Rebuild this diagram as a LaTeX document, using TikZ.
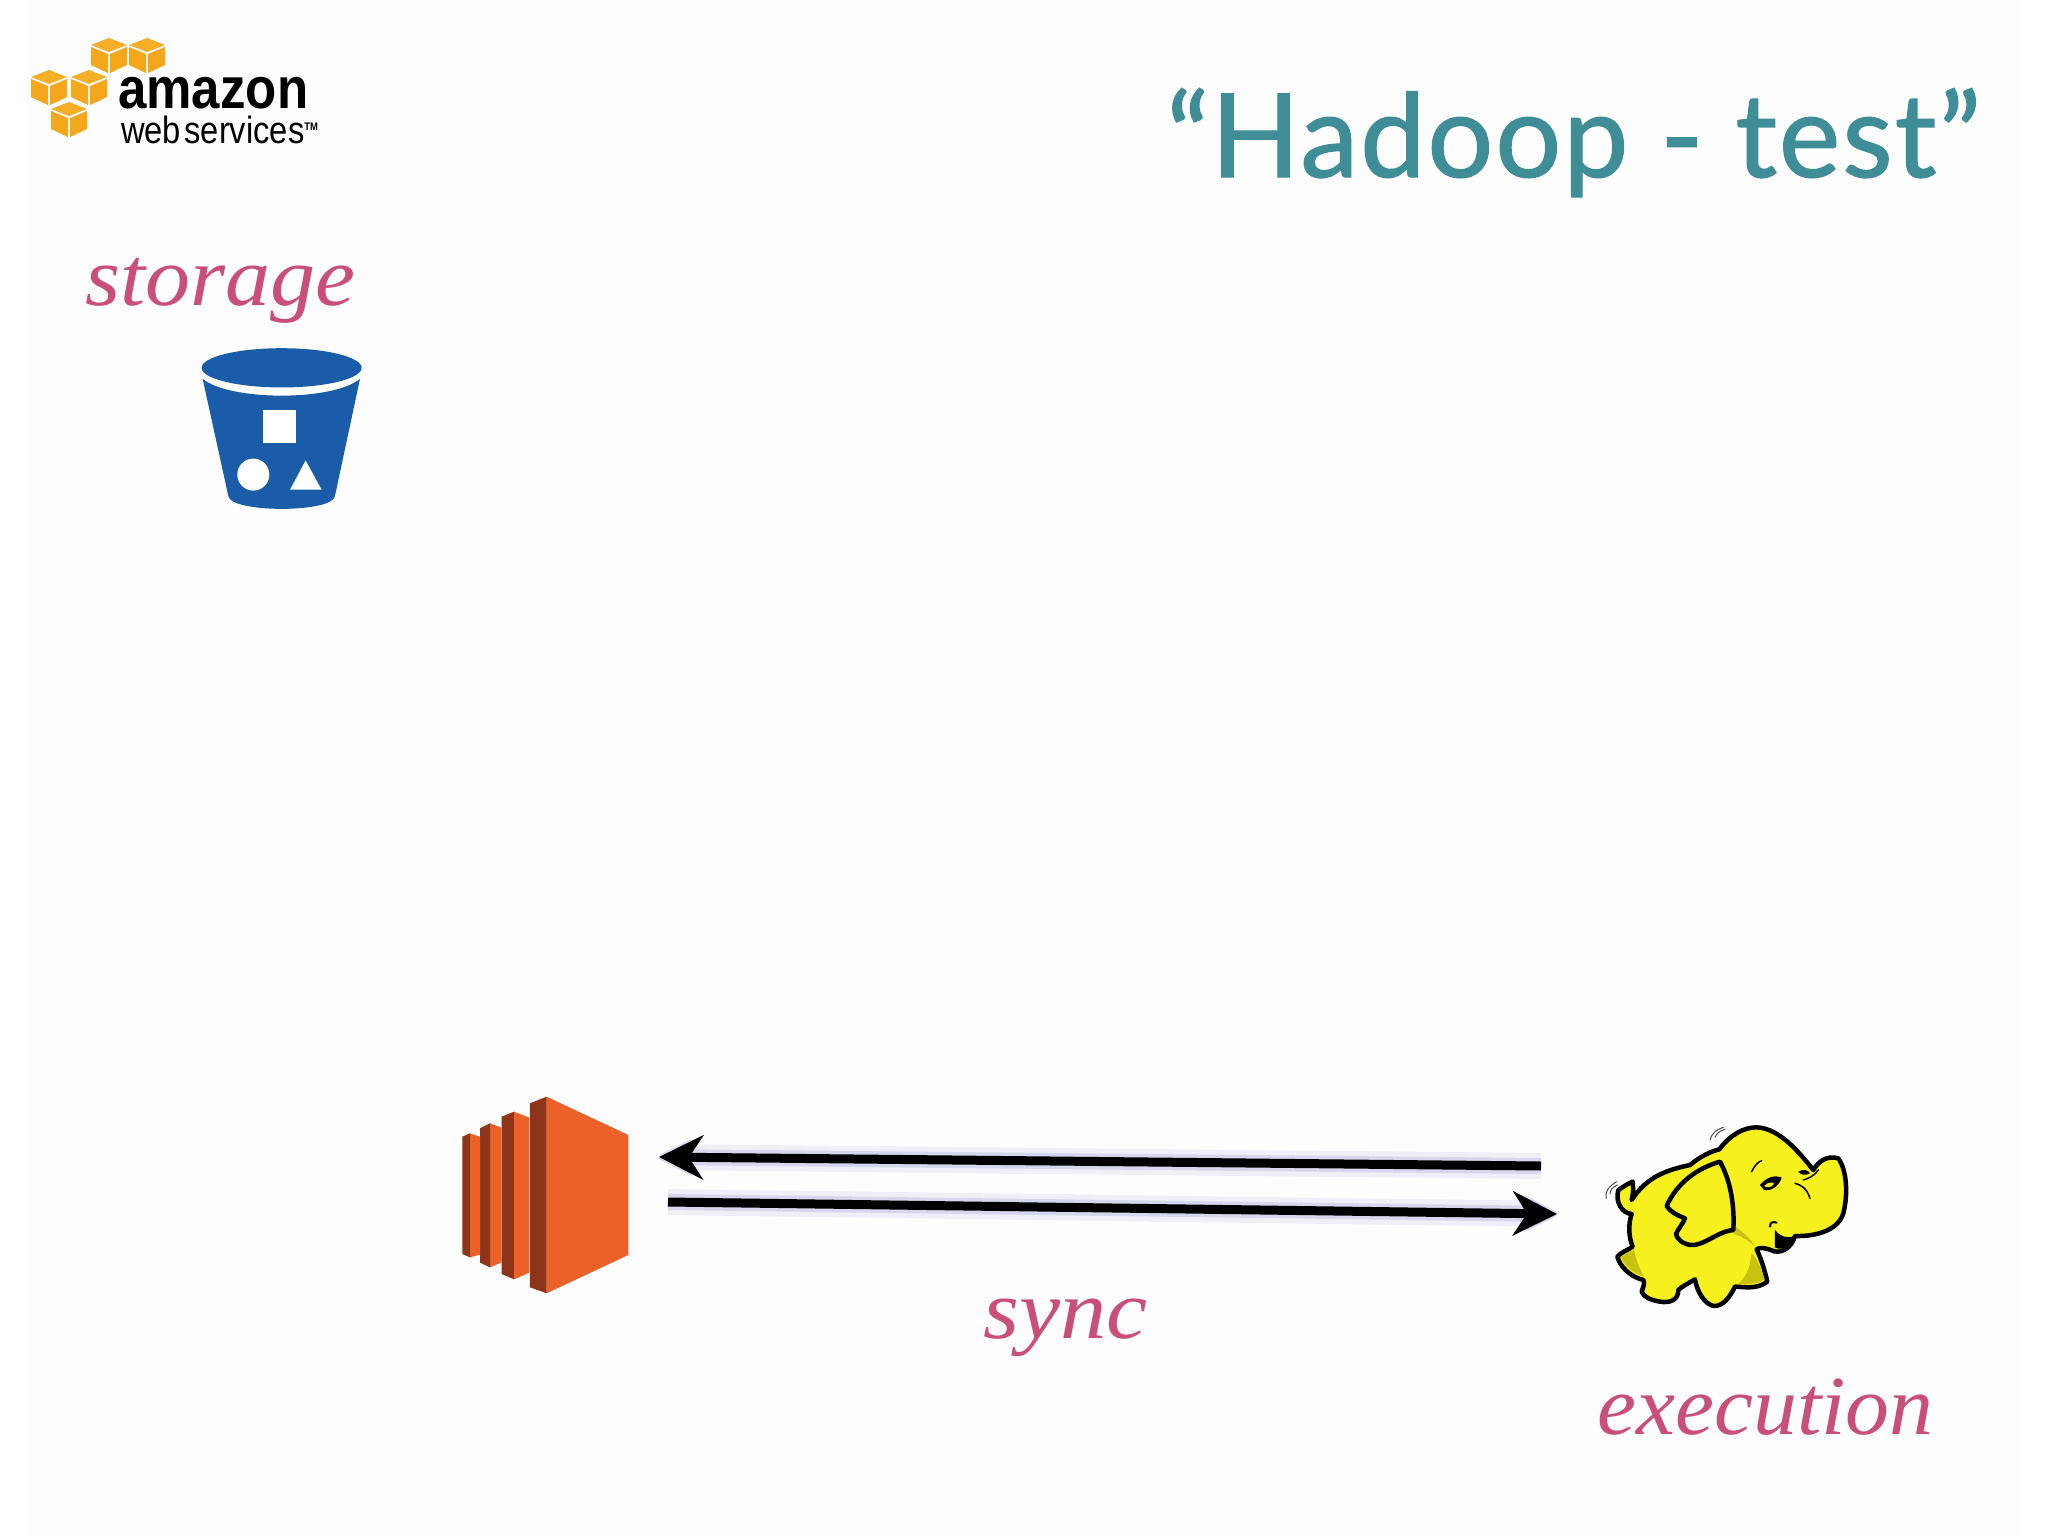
\documentclass[tikz,border=0pt]{standalone}
\usepackage{fontspec}
\usepackage{graphicx}
\usetikzlibrary{arrows.meta}
\setmainfont{Liberation Serif}
\newfontfamily\titlefont[LetterSpace=1.9,FakeBold=1.2]{Lato}
\newfontfamily\awsfont{Liberation Sans}
\definecolor{titleteal}{HTML}{3F8D96}
\definecolor{labelrose}{HTML}{C94F7A}
\definecolor{awsgold}{HTML}{F4A71B}
\definecolor{awsgoldlt}{HTML}{F6AE26}
\definecolor{bucketblue}{HTML}{1A5CA8}
\definecolor{ecorange}{HTML}{EC6127}
\definecolor{ecdark}{HTML}{8E3418}
\definecolor{eleyellow}{HTML}{F6F01E}
\definecolor{eleshade}{HTML}{C9C20E}
\definecolor{glowa}{HTML}{EFEFF8}
\definecolor{glowb}{HTML}{D6D6EC}
\definecolor{pagetone}{HTML}{FDFDFD}
\tikzset{
  x=1pt,y=-1pt,
  labeltext/.style={inner sep=0pt,anchor=base west,text=labelrose,font=\fontsize{#1}{#1}\selectfont\itshape},
  syncline/.style={line width=9pt,black},
  glowone/.style={line width=26pt,glowa},
  glowtwo/.style={line width=16pt,glowb},
  zoomed/.style={shift={(#1)},x=0.3333pt,y=-0.3333pt},
  zoomedtall/.style={x=0.3333pt,y=-0.3444pt},
  eleline/.style={line width=4.5pt,draw=black,line join=round},
  headtip/.style={-{Stealth[length=44pt,width=44pt,inset=14pt]}},
  glowtip/.style={-{Stealth[length=44pt,width=44pt,inset=14pt,line width=#1,round]}},
}
\newcommand{\awscube}[2]{%
  \fill[awsgoldlt] (#1,#2) -- ++(18,7) -- ++(-18,7) -- ++(-18,-7) -- cycle;
  \fill[awsgold] (#1-18,#2+9) -- (#1-1,#2+16) -- (#1-1,#2+35) -- (#1-18,#2+27) -- cycle;
  \fill[awsgold] (#1+18,#2+9) -- (#1+1,#2+16) -- (#1+1,#2+35) -- (#1+18,#2+27) -- cycle;
}
\begin{document}
\begin{tikzpicture}
\useasboundingbox (0,0) rectangle (2048,1536);
\fill[white] (0,0) rectangle (2048,1536);
\fill[pagetone] (28,0) rectangle (2020,1536);

% logo
\awscube{109}{38}\awscube{147}{38}\awscube{49}{70}\awscube{89}{70}\awscube{69}{102}
\node[inner sep=0pt,anchor=base west,font=\awsfont\bfseries\fontsize{58}{58}\selectfont] (amazon) at (118,109) {\scalebox{0.88}[1]{amazon}};
\node[inner sep=0pt,anchor=base west,font=\awsfont\fontsize{38}{38}\selectfont] (webserv) at (121,143) {\scalebox{0.86}[1]{web\hspace{4pt}services\raisebox{13pt}{\fontsize{11}{11}\selectfont\bfseries TM}}};

% title
\node[inner sep=0pt,anchor=base east,text=titleteal,font=\titlefont\fontsize{116}{116}\selectfont] (title) at (1981,177) {“Hadoop - test”};

% labels
\node[labeltext=84] (storage) at (85,305) {\scalebox{1.073}[1]{storage}};
\node[labeltext=84] (sync) at (983,1338) {\scalebox{1.10}[1]{sync}};
\node[labeltext=84] (execution) at (1597,1434) {\scalebox{1.045}[1]{execution}};

% bucket
\begin{scope}[zoomedtall]
\fill[bucketblue] (845,1068) ellipse [x radius=240,y radius=57];
\fill[bucketblue] (608,1100) .. controls (690,1165) and (1000,1165) .. (1080,1100)
  -- (1005,1440) .. controls (1000,1490) and (690,1490) .. (685,1440) -- cycle;
\fill[white] (790,1190) rectangle (888,1285);
\fill[white] (760,1378) circle [radius=16pt];
\fill[white] (917,1337) -- (965,1422) -- (870,1422) -- cycle;
\end{scope}

% EC2
\begin{scope}[zoomed={440,1080}]
\fill[ecorange] (320,50) -- (565,165) -- (565,525) -- (320,640) -- cycle;
\fill[ecdark] (270,70) -- (320,50) -- (320,640) -- (270,622) -- cycle;
\fill[ecorange] (222,95) -- (268,113) -- (268,578) -- (222,598) -- cycle;
\fill[ecdark] (185,110) -- (222,95) -- (222,598) -- (185,582) -- cycle;
\fill[ecorange] (150,130) -- (185,143) -- (185,547) -- (150,562) -- cycle;
\fill[ecdark] (120,145) -- (150,130) -- (150,562) -- (120,548) -- cycle;
\fill[ecorange] (90,160) -- (120,170) -- (120,524) -- (90,532) -- cycle;
\fill[ecdark] (67,170) -- (90,160) -- (90,532) -- (67,522) -- cycle;
\end{scope}

% sync arrows
\coordinate (hadoopout) at (1541,1166);
\coordinate (ecin) at (659,1157);
\coordinate (ecout) at (668,1202);
\coordinate (hadoopin) at (1557,1214);
\draw[glowone,glowtip=14pt] (hadoopout) -- (ecin);
\draw[glowone,glowtip=14pt] (ecout) -- (hadoopin);
\draw[glowtwo,glowtip=6pt] (hadoopout) -- (ecin);
\draw[glowtwo,glowtip=6pt] (ecout) -- (hadoopin);
\draw[syncline,headtip] (hadoopout) -- (ecin);
\draw[syncline,headtip] (ecout) -- (hadoopin);

% elephant
\begin{scope}[zoomed={1560,1090}]
\path[fill=eleyellow,eleline]
  (590,112) .. controls (660,115) and (720,190) .. (760,240)
  .. controls (775,215) and (800,195) .. (835,205)
  .. controls (860,240) and (865,310) .. (850,370)
  .. controls (835,420) and (770,440) .. (705,438)
  .. controls (695,475) and (660,495) .. (632,480)
  .. controls (620,475) and (600,470) .. (590,478)
  .. controls (605,510) and (615,545) .. (622,575)
  .. controls (590,600) and (550,590) .. (525,590)
  .. controls (510,620) and (490,650) .. (460,648)
  .. controls (430,640) and (410,600) .. (405,568)
  .. controls (385,580) and (365,590) .. (355,600)
  .. controls (355,630) and (330,640) .. (300,635)
  .. controls (270,630) and (250,620) .. (245,605)
  .. controls (250,590) and (255,580) .. (250,570)
  .. controls (210,560) and (180,530) .. (172,500)
  .. controls (185,485) and (205,480) .. (218,470)
  .. controls (205,440) and (205,400) .. (215,372)
  .. controls (185,370) and (165,335) .. (175,300)
  .. controls (190,290) and (205,280) .. (218,275)
  .. controls (220,295) and (220,310) .. (215,330)
  .. controls (260,260) and (320,240) .. (390,225)
  .. controls (420,200) and (450,185) .. (478,178)
  .. controls (510,135) and (550,112) .. (590,112) -- cycle;
% shading
\fill[eleshade] (575,490) .. controls (590,500) and (600,530) .. (614,568)
  .. controls (590,585) and (560,582) .. (535,582)
  .. controls (560,560) and (570,530) .. (575,490) -- cycle;
\fill[eleshade] (182,500) .. controls (195,492) and (210,487) .. (222,480)
  .. controls (230,520) and (245,545) .. (252,560) .. controls (215,548) and (192,525) .. (182,500) -- cycle;
\fill[eleshade] (520,405) .. controls (545,425) and (570,440) .. (585,470) .. controls (565,450) and (545,440) .. (520,430) -- cycle;
\path[fill=eleyellow,eleline]
  (480,215) .. controls (505,260) and (525,330) .. (520,420)
  .. controls (470,425) and (430,470) .. (390,465)
  .. controls (365,460) and (350,445) .. (348,432)
  .. controls (355,415) and (370,400) .. (375,385)
  .. controls (350,375) and (330,365) .. (320,348)
  .. controls (350,280) and (410,235) .. (480,215) -- cycle;
% face
\fill[black] (600,285) .. controls (620,260) and (645,255) .. (665,262)
  .. controls (660,285) and (635,305) .. (612,300) -- cycle;
\fill[eleyellow] (612,288) .. controls (625,275) and (640,275) .. (642,282) .. controls (635,292) and (622,295) .. (612,288) -- cycle;
\fill[black] (715,245) .. controls (730,235) and (745,240) .. (750,250) .. controls (735,258) and (722,255) .. (715,245) -- cycle;
\draw[line width=1.5pt,line cap=round] (575,245) .. controls (585,225) and (595,215) .. (605,212);
\draw[line width=1.5pt,line cap=round] (705,280) .. controls (725,285) and (740,295) .. (750,325);
\draw[line width=1.5pt,line cap=round] (730,270) .. controls (745,265) and (760,260) .. (775,240);
\fill[black] (645,420) .. controls (660,440) and (680,445) .. (702,440)
  .. controls (695,465) and (665,485) .. (645,472) -- cycle;
\draw[line width=2pt,line cap=round] (630,410) .. controls (630,395) and (640,395) .. (650,398);
% motion lines
\draw[line width=1pt,black!70,line cap=round] (450,150) .. controls (455,130) and (470,118) .. (490,112);
\draw[line width=1pt,black!70,line cap=round] (465,142) .. controls (470,130) and (480,122) .. (495,118);
\draw[line width=1pt,black!70,line cap=round] (138,325) .. controls (135,305) and (145,290) .. (170,275);
\draw[line width=1pt,black!70,line cap=round] (150,312) .. controls (150,300) and (158,292) .. (172,285);
\end{scope}
\end{tikzpicture}
\end{document}
